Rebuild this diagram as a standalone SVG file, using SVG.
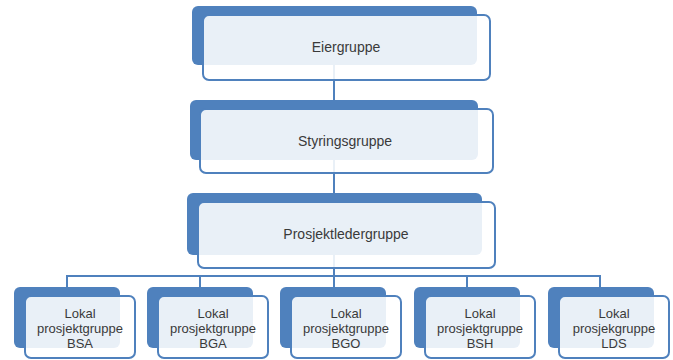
<svg xmlns="http://www.w3.org/2000/svg" width="673" height="360" viewBox="0 0 673 360">
<style>
.back{fill:#4f81bd}
.front{fill:#ffffff;fill-opacity:0.88;stroke:#4f81bd;stroke-width:2}
.conn{stroke:#4f81bd;stroke-width:2;fill:none}
text{font-family:"Liberation Sans",Arial,sans-serif;fill:#3a3a3a;text-anchor:middle}
.big{font-size:14px}
.small{font-size:13px}
</style>
<rect width="673" height="360" fill="#ffffff"/>
<g id="connectors">
<path class="conn" d="M334,40 V276"/>
<path class="conn" d="M67,287 V276 H600 V287 M200,276 V287 M334,276 V287 M467,276 V287"/>
</g>
<g id="eiergruppe">
<rect class="back" x="192" y="6" width="285" height="59" rx="6"/>
<rect class="front" x="203" y="15" width="287" height="65" rx="6"/>
<text class="big" x="346" y="52">Eiergruppe</text>
</g>
<g id="styringsgruppe">
<rect class="back" x="190" y="100" width="288" height="60" rx="6"/>
<rect class="front" x="200" y="109" width="293" height="64" rx="6"/>
<text class="big" x="345" y="146">Styringsgruppe</text>
</g>
<g id="prosjektledergruppe">
<rect class="back" x="187" y="193" width="295" height="62" rx="6"/>
<rect class="front" x="198" y="202" width="297" height="66" rx="6"/>
<text class="big" x="346" y="239">Prosjektledergruppe</text>
</g>
<g id="bsa">
<rect class="back" x="14" y="287" width="106" height="61" rx="6"/>
<rect class="front" x="25" y="296" width="110" height="62" rx="6"/>
<text class="small" x="80" y="318">Lokal</text>
<text class="small" x="80" y="333">prosjektgruppe</text>
<text class="small" x="80" y="348">BSA</text>
</g>
<g id="bga">
<rect class="back" x="147" y="287" width="106" height="61" rx="6"/>
<rect class="front" x="158" y="296" width="110" height="62" rx="6"/>
<text class="small" x="213" y="318">Lokal</text>
<text class="small" x="213" y="333">prosjektgruppe</text>
<text class="small" x="213" y="348">BGA</text>
</g>
<g id="bgo">
<rect class="back" x="280" y="287" width="106" height="61" rx="6"/>
<rect class="front" x="291" y="296" width="110" height="62" rx="6"/>
<text class="small" x="346" y="318">Lokal</text>
<text class="small" x="346" y="333">prosjektgruppe</text>
<text class="small" x="346" y="348">BGO</text>
</g>
<g id="bsh">
<rect class="back" x="414" y="287" width="106" height="61" rx="6"/>
<rect class="front" x="425" y="296" width="110" height="62" rx="6"/>
<text class="small" x="480" y="318">Lokal</text>
<text class="small" x="480" y="333">prosjektgruppe</text>
<text class="small" x="480" y="348">BSH</text>
</g>
<g id="lds">
<rect class="back" x="548" y="287" width="106" height="61" rx="6"/>
<rect class="front" x="559" y="296" width="110" height="62" rx="6"/>
<text class="small" x="614" y="318">Lokal</text>
<text class="small" x="614" y="333">prosjekgruppe</text>
<text class="small" x="614" y="348">LDS</text>
</g>
</svg>
